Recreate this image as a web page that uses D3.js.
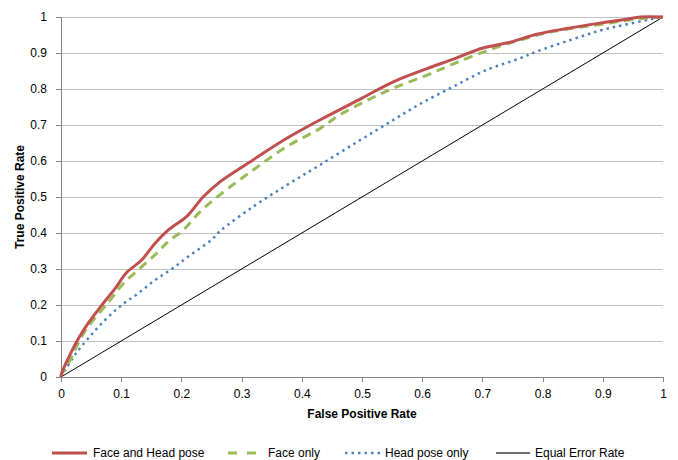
<!DOCTYPE html>
<html><head><meta charset="utf-8">
<script src="https://cdn.jsdelivr.net/npm/d3@7"></script>
<style>body{margin:0;background:#fff}svg{display:block}text{font-family:"Liberation Sans",Arial,sans-serif;fill:#000}</style>
</head><body>
<svg id="c" width="678" height="460"></svg>
<script>
const xTicks = [0,0.1,0.2,0.3,0.4,0.5,0.6,0.7,0.8,0.9,1];
const yTicks = [0,0.1,0.2,0.3,0.4,0.5,0.6,0.7,0.8,0.9,1];
const faceHeadX = [0,0.001,0.012,0.029,0.045,0.068,0.09,0.109,0.134,0.156,0.178,0.209,0.236,0.264,0.319,0.375,0.43,0.497,0.552,0.607,0.652,0.701,0.746,0.79,0.84,0.895,0.94,0.962,1];
const faceHeadY = [0,0.01,0.052,0.107,0.149,0.20,0.246,0.29,0.325,0.371,0.408,0.446,0.50,0.542,0.603,0.663,0.714,0.772,0.82,0.856,0.883,0.914,0.93,0.952,0.968,0.983,0.994,1,1];
const faceX = [0,0.001,0.018,0.034,0.056,0.08,0.101,0.128,0.156,0.178,0.203,0.231,0.264,0.319,0.375,0.43,0.463,0.508,0.552,0.607,0.652,0.707,0.762,0.818,0.906,0.95,1];
const faceY = [0,0.006,0.056,0.112,0.163,0.21,0.255,0.297,0.339,0.376,0.408,0.459,0.506,0.575,0.64,0.69,0.728,0.768,0.802,0.838,0.87,0.906,0.936,0.96,0.982,0.993,1];
const headX = [0,0.007,0.023,0.045,0.073,0.101,0.128,0.156,0.184,0.211,0.25,0.264,0.319,0.375,0.43,0.497,0.552,0.596,0.652,0.707,0.762,0.79,0.846,0.895,0.94,1];
const headY = [0,0.019,0.061,0.107,0.158,0.20,0.232,0.269,0.30,0.334,0.381,0.405,0.473,0.533,0.589,0.658,0.714,0.758,0.807,0.853,0.885,0.904,0.936,0.962,0.98,1];
const eerX = [0,1];
const eerY = [0,1];
const seriesNames = ["Face and Head pose","Face only","Head pose only","Equal Error Rate"];

const svg = d3.select("#c");
const x = d3.scaleLinear().domain([0,1]).range([61,663]);
const y = d3.scaleLinear().domain([0,1]).range([377,17]);

svg.append("g").selectAll("line").data(yTicks.filter(d=>d>0)).join("line")
  .attr("x1",x(0)).attr("x2",x(1)).attr("y1",d=>y(d)).attr("y2",d=>y(d))
  .attr("stroke","#c0c0c0").attr("stroke-width",1).attr("shape-rendering","crispEdges");

const fmt = d=>d3.format("")(d);
const xa = svg.append("g").attr("transform",`translate(0,${y(0)})`)
  .call(d3.axisBottom(x).tickValues(xTicks).tickFormat(fmt).tickSize(5).tickPadding(7));
const ya = svg.append("g").attr("transform",`translate(${x(0)},0)`)
  .call(d3.axisLeft(y).tickValues(yTicks).tickFormat(fmt).tickSize(5).tickPadding(9));
[xa,ya].forEach(a=>{
  a.selectAll("path").attr("stroke","#868686").attr("shape-rendering","crispEdges");
  a.selectAll("line").attr("stroke","#868686").attr("shape-rendering","crispEdges");
  a.selectAll("text").attr("font-size",12).attr("font-family","'Liberation Sans',Arial,sans-serif");
});

svg.append("text").attr("x",362).attr("y",418).attr("text-anchor","middle")
  .attr("font-size",12).attr("font-weight","bold").text("False Positive Rate");
svg.append("text").attr("transform","translate(24,197) rotate(-90)").attr("text-anchor","middle")
  .attr("font-size",12).attr("font-weight","bold").text("True Positive Rate");

const line = d3.line().x(d=>x(d[0])).y(d=>y(d[1])).curve(d3.curveCatmullRom.alpha(0.5));
const styles = [
  {xs:faceHeadX, ys:faceHeadY, color:"#C0504D", w:3, dash:null},
  {xs:faceX, ys:faceY, color:"#9BBB59", w:3, dash:"9,6"},
  {xs:headX, ys:headY, color:"#4F81BD", w:2.5, dash:"2.5,4"},
  {xs:eerX, ys:eerY, color:"#000000", w:1, dash:null}
];
[3,2,1,0].forEach(i=>{
  const s = styles[i];
  const pts = s.xs.map((v,j)=>[v,s.ys[j]]);
  svg.append("path").attr("d",line(pts)).attr("fill","none")
    .attr("stroke",s.color).attr("stroke-width",s.w)
    .attr("stroke-dasharray",s.dash).attr("stroke-linejoin","round");
});

const legLine = [[52,87],[228,256],[345,380],[496,530]];
const legText = [93,268,385,535];
const legY = 453;
seriesNames.forEach((n,i)=>{
  const s = styles[i];
  svg.append("line").attr("x1",legLine[i][0]).attr("x2",legLine[i][1]).attr("y1",legY).attr("y2",legY)
    .attr("stroke",i===3?"#404040":s.color).attr("stroke-width",i===3?1.5:s.w)
    .attr("stroke-dasharray",i===1?"9,10":s.dash);
  svg.append("text").attr("x",legText[i]).attr("y",legY+4).attr("font-size",12).text(n);
});
</script>
</body></html>
